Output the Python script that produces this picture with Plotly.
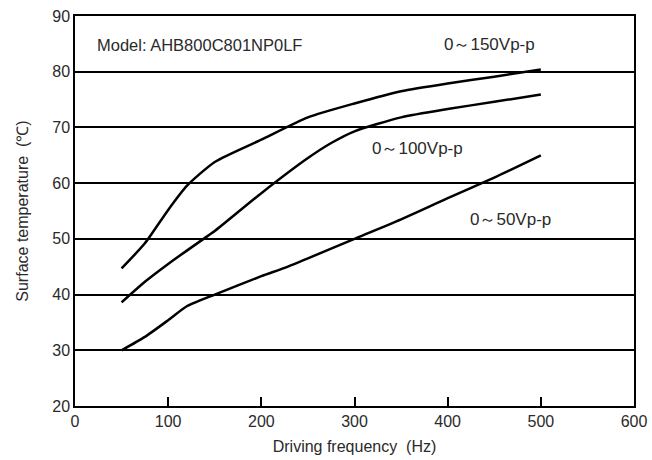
import plotly.graph_objects as go

freq_150 = [50, 75, 100, 120, 150, 200, 250, 300, 350, 400, 450, 500]
temp_150 = [44.7, 49.2, 55.2, 59.5, 63.8, 67.8, 71.8, 74.3, 76.5, 77.9, 79.1, 80.4]

freq_100 = [50, 75, 100, 138, 150, 200, 250, 275, 300, 350, 400, 450, 500]
temp_100 = [38.6, 42.3, 45.5, 50.0, 51.4, 58.2, 64.5, 67.2, 69.3, 71.8, 73.3, 74.6, 75.9]

freq_50 = [50, 75, 100, 120, 150, 200, 225, 250, 300, 350, 400, 450, 500]
temp_50 = [30.0, 32.4, 35.4, 37.9, 40.0, 43.3, 44.8, 46.5, 50.0, 53.5, 57.3, 61.0, 65.0]

series_labels = ["0～150Vp-p", "0～100Vp-p", "0～50Vp-p"]
label_x = [445, 368, 467]
label_y = [84.8, 66.3, 53.4]
model_text = "Model: AHB800C801NP0LF"

x_ticks = [0, 100, 200, 300, 400, 500, 600]
y_ticks = [20, 30, 40, 50, 60, 70, 80, 90]

FONT = "Liberation Sans, Arial, sans-serif"
TXT = "#2a2a2a"

fig = go.Figure()
for fx, ty in [(freq_150, temp_150), (freq_100, temp_100), (freq_50, temp_50)]:
    fig.add_trace(go.Scatter(x=fx, y=ty, mode="lines",
                             line=dict(color="black", width=2.5, shape="spline", smoothing=0.6),
                             showlegend=False, hoverinfo="skip"))

for t, lx, ly in zip(series_labels, label_x, label_y):
    fig.add_annotation(x=lx, y=ly, text=t, showarrow=False, xanchor="center", yanchor="middle",
                       font=dict(size=17, color=TXT, family=FONT))
fig.add_annotation(x=21, y=84.8, text=model_text, showarrow=False, xanchor="left", yanchor="middle",
                   font=dict(size=16.5, color=TXT, family=FONT))

fig.update_layout(
    width=652, height=460,
    margin=dict(l=75, r=18, t=16, b=54),
    paper_bgcolor="white", plot_bgcolor="white",
    font=dict(family=FONT, size=16, color=TXT),
    xaxis=dict(range=[0, 600], tickvals=x_ticks, showgrid=False, zeroline=False,
               showline=True, linecolor="black", linewidth=1.5, mirror=True,
               ticks="inside", ticklen=9, tickwidth=1.5, tickcolor="black", automargin=False,
               title=dict(text="Driving frequency\u00a0\u00a0(Hz)", font=dict(size=16), standoff=12),
               tickfont=dict(size=16)),
    yaxis=dict(range=[20, 90], tickvals=y_ticks, showgrid=True, gridcolor="black", gridwidth=1.8,
               zeroline=False, showline=True, linecolor="black", linewidth=1.5, mirror=True,
               ticks="", automargin=False,
               title=dict(text="Surface temperature\u00a0\u00a0(℃)", font=dict(size=16), standoff=20),
               tickfont=dict(size=16)),
)

fig.write_html("out.html", config={"displayModeBar": False},
               post_script="document.body.style.margin='0';document.body.style.overflow='hidden';")
